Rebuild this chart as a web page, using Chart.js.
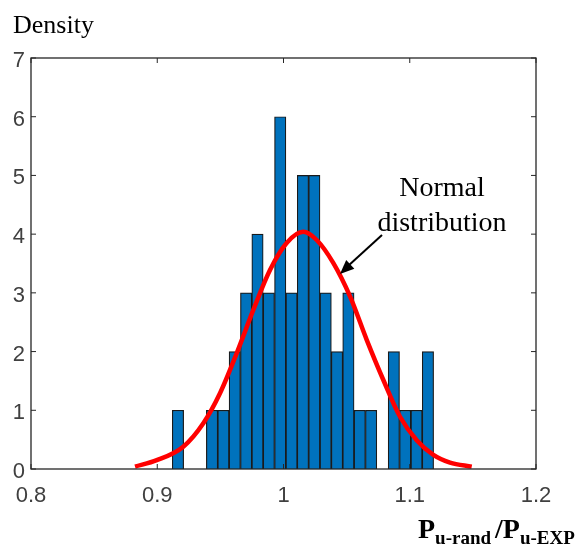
<!DOCTYPE html>
<html>
<head>
<meta charset="utf-8">
<script src="https://cdn.jsdelivr.net/npm/chart.js@4"></script>
<style>
  html, body { margin: 0; padding: 0; background: #fff; }
  #wrap { width: 578px; height: 556px; }
</style>
</head>
<body>
<div id="wrap"><canvas id="chart" width="578" height="556"></canvas></div>
<script>
// histogram bins (centres) and heights
const binCenters = [0.9164, 0.9254, 0.9344, 0.9434, 0.9524, 0.9614, 0.9704, 0.9794, 0.9884, 0.9974,
                    1.0064, 1.0154, 1.0244, 1.0334, 1.0424, 1.0514, 1.0604, 1.0694, 1.0784, 1.0874,
                    1.0964, 1.1054, 1.1144];
const binHeights = [1, 0, 0, 1, 1, 2, 3, 4, 3, 6,
                    3, 5, 5, 3, 2, 3, 1, 1, 0, 2,
                    1, 1, 2];

// fitted normal curve
const curveX = [0.8824, 0.8996, 0.9206, 0.9365, 0.9497, 0.9629, 0.9761, 0.9893, 1.0025, 1.0157,
                1.0263, 1.0394, 1.0527, 1.0659, 1.0790, 1.0923, 1.1055, 1.1187, 1.1319, 1.1491];
const curveY = [0.04, 0.15, 0.38, 0.78, 1.29, 1.97, 2.71, 3.39, 3.85, 4.04,
                3.90, 3.51, 2.94, 2.20, 1.52, 0.89, 0.49, 0.24, 0.11, 0.04];

const xTicks = [0.8, 0.9, 1.0, 1.1, 1.2];
const yTicks = [0, 1, 2, 3, 4, 5, 6, 7];

Chart.defaults.font.family = '"Liberation Sans", Arial, sans-serif';

// box around the plot, ticks pointing inward, annotation and axis titles
const decorations = {
    id: 'decorations',
    afterDatasetsDraw(chart) {
        const ctx = chart.ctx;
        const a = chart.chartArea;
        const xs = chart.scales.x, ys = chart.scales.y;
        ctx.save();
        ctx.strokeStyle = '#262626';
        ctx.lineWidth = 1.3;
        ctx.strokeRect(a.left, a.top, a.right - a.left, a.bottom - a.top);
        ctx.lineWidth = 1;
        ctx.beginPath();
        xTicks.forEach(v => {
            const px = xs.getPixelForValue(v);
            ctx.moveTo(px, a.bottom); ctx.lineTo(px, a.bottom - 5);
            ctx.moveTo(px, a.top); ctx.lineTo(px, a.top + 5);
        });
        yTicks.forEach(v => {
            const py = ys.getPixelForValue(v);
            ctx.moveTo(a.left, py); ctx.lineTo(a.left + 5, py);
            ctx.moveTo(a.right, py); ctx.lineTo(a.right - 5, py);
        });
        ctx.stroke();
        ctx.restore();
    },
    afterDraw(chart) {
        const ctx = chart.ctx;
        ctx.save();
        ctx.fillStyle = '#000';
        ctx.textBaseline = 'alphabetic';

        // y label
        ctx.font = '26px "Liberation Serif", "Times New Roman", serif';
        ctx.textAlign = 'left';
        ctx.fillText('Density', 13, 33);

        // annotation
        ctx.font = '28px "Liberation Serif", "Times New Roman", serif';
        ctx.textAlign = 'center';
        ctx.fillText('Normal', 442, 196);
        ctx.fillText('distribution', 442, 231);

        // arrow
        ctx.strokeStyle = '#000';
        ctx.lineWidth = 2;
        ctx.beginPath();
        ctx.moveTo(382, 235);
        ctx.lineTo(348, 266);
        ctx.stroke();
        const tipX = 340, tipY = 274;
        const ang = Math.atan2(tipY - 235, tipX - 382);
        ctx.beginPath();
        ctx.moveTo(tipX, tipY);
        ctx.lineTo(tipX - 14 * Math.cos(ang) + 6 * Math.sin(ang), tipY - 14 * Math.sin(ang) - 6 * Math.cos(ang));
        ctx.lineTo(tipX - 14 * Math.cos(ang) - 6 * Math.sin(ang), tipY - 14 * Math.sin(ang) + 6 * Math.cos(ang));
        ctx.closePath();
        ctx.fill();

        // x label: P_u-rand / P_u-EXP
        ctx.textAlign = 'left';
        const big = 'bold 28px "Liberation Serif", "Times New Roman", serif';
        const small = 'bold 19px "Liberation Serif", "Times New Roman", serif';
        let x = 418;
        const base = 538;
        ctx.font = big; ctx.fillText('P', x, base); x += ctx.measureText('P').width;
        ctx.font = small; ctx.fillText('u-rand', x, base + 6); x += ctx.measureText('u-rand').width + 4;
        ctx.font = big; ctx.fillText('/P', x, base); x += ctx.measureText('/P').width;
        ctx.font = small; ctx.fillText('u-EXP', x, base + 6);
        ctx.restore();
    }
};

new Chart(document.getElementById('chart'), {
    data: {
        datasets: [
            {
                type: 'line',
                data: curveX.map((v, i) => ({ x: v, y: curveY[i] })),
                borderColor: '#FF0000',
                borderWidth: 4.5,
                pointRadius: 0,
                tension: 0.4,
                cubicInterpolationMode: 'monotone',
                order: 0
            },
            {
                type: 'bar',
                data: binCenters.map((v, i) => ({ x: v, y: binHeights[i] === 0 ? null : binHeights[i] })),
                backgroundColor: '#0072BD',
                borderColor: '#1a1a1a',
                borderWidth: 1.2,
                borderSkipped: 'bottom',
                barPercentage: 1,
                categoryPercentage: 1,
                order: 1
            }
        ]
    },
    options: {
        responsive: false,
        animation: false,
        layout: { padding: { top: 58, right: 42, left: 0, bottom: 0 } },
        plugins: { legend: { display: false }, tooltip: { enabled: false } },
        scales: {
            x: {
                type: 'linear',
                min: 0.8,
                max: 1.2,
                offset: false,
                grid: { display: false, offset: false, drawTicks: false },
                border: { display: false },
                afterFit: s => { s.height = 87; },
                afterBuildTicks: s => { s.ticks = xTicks.map(v => ({ value: v })); },
                ticks: {
                    padding: 14,
                    color: '#404040',
                    font: { size: 22 },
                    maxRotation: 0,
                    callback: v => String(Number(v.toFixed(1)))
                }
            },
            y: {
                min: 0,
                max: 7,
                grid: { display: false, drawTicks: false },
                border: { display: false },
                afterFit: s => { s.width = 31; },
                afterBuildTicks: s => { s.ticks = yTicks.map(v => ({ value: v })); },
                ticks: {
                    padding: 6,
                    labelOffset: 3,
                    color: '#404040',
                    font: { size: 22 }
                }
            }
        }
    },
    plugins: [decorations]
});
</script>
</body>
</html>
